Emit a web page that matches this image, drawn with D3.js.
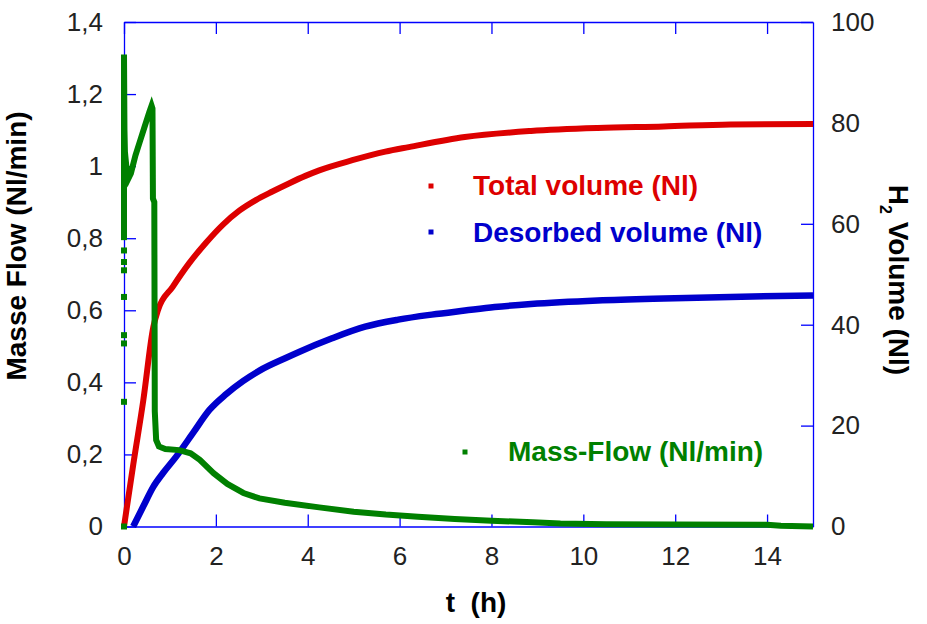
<!DOCTYPE html>
<html>
<head>
<meta charset="utf-8">
<script src="https://cdn.jsdelivr.net/npm/d3@7.9.0/dist/d3.min.js"></script>
<style>
  body { margin: 0; background: #fff; }
  svg { display: block; font-family: "Liberation Sans", Arial, sans-serif; }
  .tick text { fill: #222; font-size: 26px; }
  .domain, .tick line { stroke: #0000ff; stroke-width: 1.3; }
  .title { font-weight: bold; font-size: 28px; fill: #000; }
  .legend text { font-weight: bold; font-size: 28px; }
</style>
</head>
<body>
<svg id="chart" width="927" height="624"></svg>
<script>
// time axis (h)
const xTicks = [0, 2, 4, 6, 8, 10, 12, 14];
const flowTicks = [0, 0.2, 0.4, 0.6, 0.8, 1, 1.2, 1.4];
const volTicks = [0, 20, 40, 60, 80, 100];

// Total volume (Nl) - right axis
const totalT = [0, 0.2, 0.42, 0.64, 0.74, 1.06, 1.42, 1.79, 2.15, 2.51, 2.87, 3.23, 3.59, 3.95, 4.25, 4.97, 5.69, 6.2, 7.42, 8.86, 10.31, 11.75, 13.2, 15];
const totalV = [0, 12.2, 25.0, 39.6, 42.9, 47.5, 52.2, 56.3, 59.8, 62.6, 64.7, 66.4, 68.0, 69.5, 70.6, 72.6, 74.3, 75.2, 77.2, 78.4, 79.0, 79.3, 79.7, 79.8];

// Desorbed volume (Nl) - right axis
const desT = [0.2, 0.42, 0.64, 0.85, 1.14, 1.5, 1.86, 2.22, 2.59, 2.95, 3.52, 3.81, 4.53, 5.25, 5.97, 6.7, 7.42, 8.07, 8.86, 10.31, 11.75, 13.2, 15];
const desV = [0, 4.0, 7.9, 10.6, 13.9, 18.5, 23.1, 26.2, 28.8, 30.9, 33.4, 34.6, 37.3, 39.6, 41.0, 42.0, 42.8, 43.5, 44.1, 44.8, 45.2, 45.5, 45.8];

// Mass flow (Nl/min) - left axis
const flowT = [0, 0, 0.01, 0.02, 0.05, 0.1, 0.15, 0.25, 0.35, 0.45, 0.55, 0.6, 0.62, 0.63, 0.66, 0.67, 0.7, 0.76, 0.9, 1.2, 1.45, 1.65, 1.95, 2.25, 2.6, 2.95, 3.5, 4.25, 5.0, 5.7, 6.4, 7.2, 8.0, 8.9, 9.5, 10.5, 12, 14, 14.3, 15];
const flowV = [0.80, 1.31, 1.10, 1.04, 1.0, 0.967, 0.98, 1.03, 1.07, 1.11, 1.15, 1.168, 1.16, 0.91, 0.90, 0.32, 0.24, 0.222, 0.215, 0.212, 0.203, 0.185, 0.148, 0.118, 0.093, 0.078, 0.066, 0.053, 0.041, 0.033, 0.027, 0.021, 0.016, 0.012, 0.008, 0.006, 0.0055, 0.005, 0.002, 0];
// isolated start-up samples at t = 0
const startV = [0, 0.346, 0.508, 0.531, 0.637, 0.711, 0.734, 0.766, 0.803];

const red = '#dd0000', blue = '#0000cc', green = '#008000';

const svg = d3.select('#chart');
const plotLeft = 124, plotRight = 813, plotTop = 22, plotBottom = 526.5;

const x = d3.scaleLinear().domain([0, 15]).range([plotLeft, plotRight]);
const yFlow = d3.scaleLinear().domain([0, 1.4]).range([plotBottom, plotTop]);
const yVol = d3.scaleLinear().domain([0, 100]).range([plotBottom, plotTop]);

const comma = (d) => String(d).replace('.', ',');

svg.append('g')
  .attr('transform', `translate(0,${plotBottom})`)
  .call(d3.axisBottom(x).tickValues(xTicks).tickSizeInner(-12).tickSizeOuter(0).tickPadding(20));

svg.append('g')
  .attr('transform', `translate(0,${plotTop})`)
  .call(d3.axisTop(x).tickValues(xTicks).tickSizeInner(-12).tickSizeOuter(0).tickFormat(''));

svg.append('g')
  .attr('transform', `translate(${plotLeft},0)`)
  .call(d3.axisLeft(yFlow).tickValues(flowTicks).tickSizeInner(-12).tickSizeOuter(0).tickPadding(21).tickFormat(comma));

svg.append('g')
  .attr('transform', `translate(${plotRight},0)`)
  .call(d3.axisRight(yVol).tickValues(volTicks).tickSizeInner(-12).tickSizeOuter(0).tickPadding(18));

svg.selectAll('.tick text').attr('font-family', null).attr('font-size', null);

// curves
const volLine = d3.line().x((d) => x(d[0])).y((d) => yVol(d[1])).curve(d3.curveMonotoneX);
const flowLine = d3.line().x((d) => x(d[0])).y((d) => yFlow(d[1]));

svg.append('path')
  .attr('d', volLine(d3.zip(totalT, totalV)))
  .attr('fill', 'none').attr('stroke', red).attr('stroke-width', 6);

svg.append('path')
  .attr('d', volLine(d3.zip(desT, desV)))
  .attr('fill', 'none').attr('stroke', blue).attr('stroke-width', 6.5);

svg.append('path')
  .attr('d', flowLine(d3.zip(flowT, flowV)))
  .attr('fill', 'none').attr('stroke', green).attr('stroke-width', 6)
  .attr('stroke-linejoin', 'miter');

svg.selectAll('rect.start')
  .data(startV)
  .join('rect')
  .attr('class', 'start')
  .attr('x', x(0) - 3)
  .attr('y', (d) => yFlow(d) - 3)
  .attr('width', 6)
  .attr('height', 6)
  .attr('fill', green);

// legend
const legendItems = [
  { label: 'Total volume (Nl)', color: red, sx: 431, sy: 186, tx: 473, ty: 195 },
  { label: 'Desorbed volume (Nl)', color: blue, sx: 431, sy: 232, tx: 473, ty: 242 },
  { label: 'Mass-Flow (Nl/min)', color: green, sx: 465, sy: 452, tx: 508, ty: 461 },
];
const legend = svg.append('g').attr('class', 'legend');
legendItems.forEach((d) => {
  legend.append('rect')
    .attr('x', d.sx - 2.5).attr('y', d.sy - 2.5)
    .attr('width', 5).attr('height', 5)
    .attr('fill', d.color);
  legend.append('text')
    .attr('x', d.tx).attr('y', d.ty)
    .attr('fill', d.color)
    .text(d.label);
});

// axis titles
svg.append('text')
  .attr('class', 'title')
  .attr('text-anchor', 'middle')
  .attr('x', 476).attr('y', 612)
  .style('white-space', 'pre')
  .text('t  (h)');

svg.append('text')
  .attr('class', 'title')
  .attr('text-anchor', 'middle')
  .attr('transform', 'translate(26,246) rotate(-90)')
  .text('Masse Flow (Nl/min)');

const rt = svg.append('text')
  .attr('class', 'title')
  .attr('text-anchor', 'middle')
  .attr('transform', 'translate(889,280) rotate(90)');
rt.append('tspan').text('H');
rt.append('tspan').attr('font-size', 16).attr('dy', 9).text('2');
rt.append('tspan').attr('dy', -9).text(' Volume (Nl)');
</script>
</body>
</html>
